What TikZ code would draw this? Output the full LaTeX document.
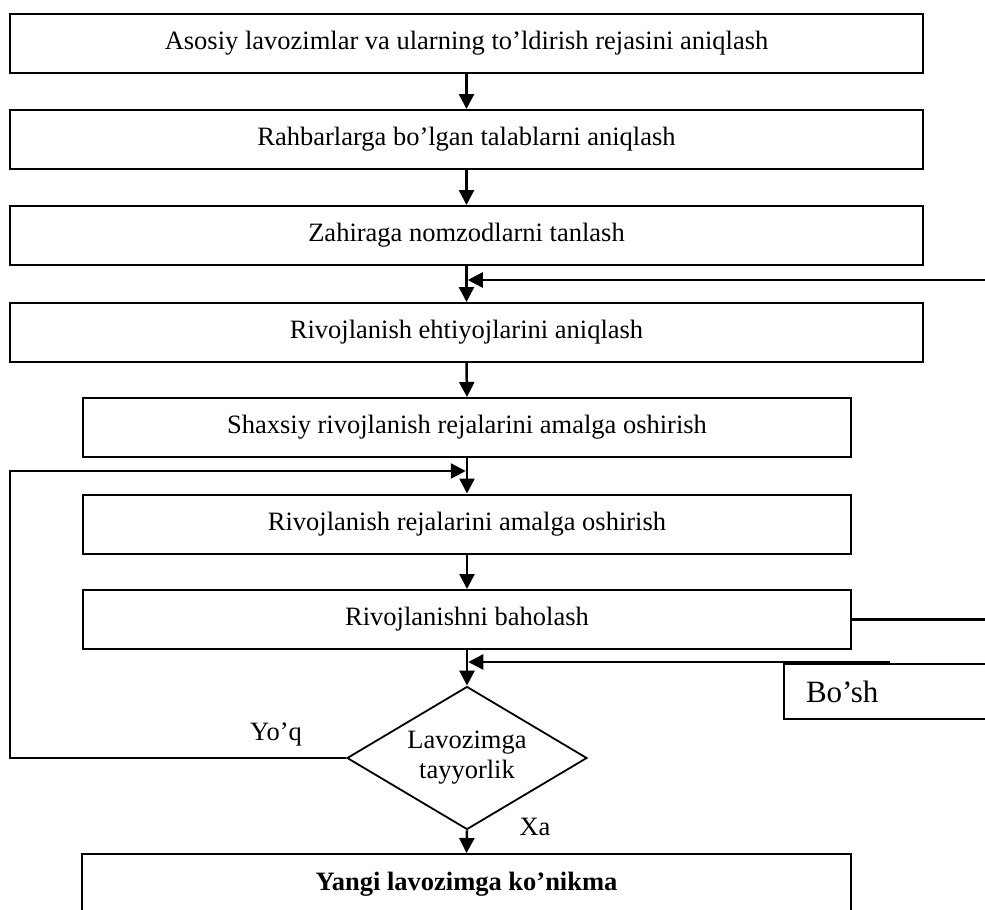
\documentclass[tikz,border=0pt]{standalone}
\usepackage{fontspec}
\setmainfont{Liberation Serif}
\usetikzlibrary{arrows.meta,shapes.geometric}
\begin{document}
\begin{tikzpicture}[x=1pt,y=-1pt,
  box/.style={draw, line width=2pt, inner sep=0pt, font=\fontsize{26.5}{30}\selectfont},
  widebox/.style={box, minimum width=913pt, minimum height=59pt},
  midbox/.style={box, minimum width=768pt, minimum height=59pt},
  conn/.style={line width=2.5pt, line join=miter, -{Triangle[length=15pt,width=15pt]}},
  plainline/.style={line width=2.5pt},
  lbl/.style={font=\fontsize{26.5}{30}\selectfont, inner sep=0pt}]
\useasboundingbox (0,0) rectangle (985,910);
\clip (0,0) rectangle (985,910);
\node[widebox] (b1) at (466.5,43.5) {Asosiy lavozimlar va ularning to’ldirish rejasini aniqlash};
\node[widebox] (b2) at (466.5,139.5) {Rahbarlarga bo’lgan talablarni aniqlash};
\node[widebox] (b3) at (466.5,235.5) {Zahiraga nomzodlarni tanlash};
\node[widebox] (b4) at (466.5,332.5) {Rivojlanish ehtiyojlarini aniqlash};
\node[midbox] (b5) at (467,427.5) {Shaxsiy rivojlanish rejalarini amalga oshirish};
\node[midbox] (b6) at (467,524) {Rivojlanish rejalarini amalga oshirish};
\node[midbox] (b7) at (467,619.5) {Rivojlanishni baholash};
\node[box, minimum width=769pt, minimum height=60pt, font=\fontsize{26.5}{30}\selectfont\bfseries] (b8) at (466.5,884) {Yangi lavozimga ko’nikma};
\node[draw, line width=2pt, anchor=north west, minimum height=55pt, text width=186pt,
      inner xsep=22pt, inner ysep=0pt, align=left, font=\fontsize{31}{34}\selectfont] (bosh) at (783,663) {Bo’sh};
\node[draw, diamond, line width=1.8pt, aspect=1.678, minimum width=240pt, minimum height=143pt,
      inner sep=0pt, align=center, lbl] (d) at (467,758) {Lavozimga\\tayyorlik};
\node[lbl] (yoq) at (276,734) {Yo’q};
\node[lbl] (xa) at (535,827) {Xa};
\coordinate (r1) at (985,280);
\coordinate (r2) at (985,619.5);
\coordinate (s1) at (890,662);
\coordinate (l2) at (10,471);
\draw[conn] (b1.south) -- (b2.north);
\draw[conn] (b2.south) -- (b3.north);
\draw[conn] (b3.south) -- (b4.north);
\draw[conn] (b4.south) -- (b5.north);
\draw[conn] (b5.south) -- (b6.north);
\draw[conn] (b6.south) -- (b7.north);
\draw[conn] (b7.south) -- (d.north);
\draw[conn] (d.south) -- (b8.north);
\draw[conn, shorten >=1.25pt] (r1) -- (b3.south |- r1);
\draw[plainline] (b7.east) -- (r2);
\draw[conn, shorten >=1.25pt] (s1) -- (b7.south |- s1);
\draw[conn, shorten >=1.25pt] (d.west) -| (l2) -- (b6.north |- l2);
\end{tikzpicture}
\end{document}
